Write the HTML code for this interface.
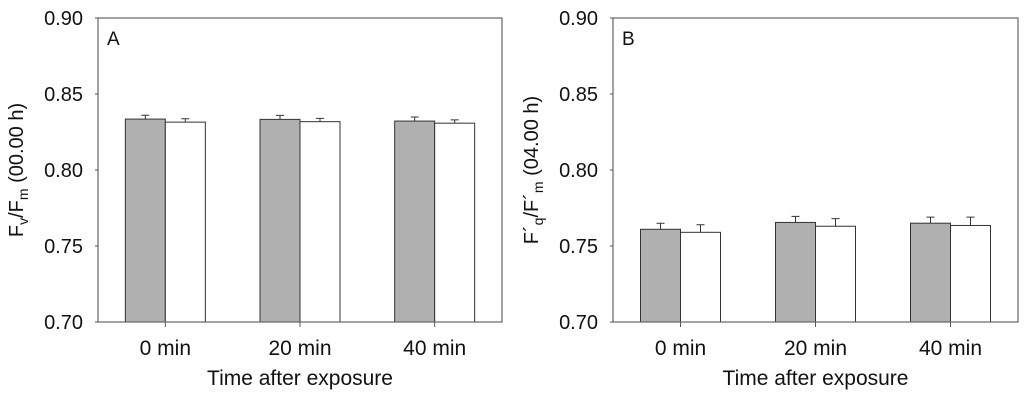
<!DOCTYPE html>
<html><head><meta charset="utf-8"><style>
body{margin:0;background:#fff;width:1024px;height:400px;overflow:hidden}
svg{font-family:"Liberation Sans",sans-serif}
</style></head><body>
<svg id="chart" width="1024" height="400"></svg>
<script>
const categories=["0 min","20 min","40 min"];
const yTicks=[0.70,0.75,0.80,0.85,0.90];
const aGray=[0.8335,0.8333,0.8322];
const aGrayErr=[0.0025,0.0026,0.0027];
const aWhite=[0.8315,0.8318,0.8308];
const aWhiteErr=[0.0022,0.0022,0.0022];
const bGray=[0.761,0.7655,0.765];
const bGrayErr=[0.004,0.004,0.004];
const bWhite=[0.759,0.763,0.7635];
const bWhiteErr=[0.005,0.005,0.0055];
const NS="http://www.w3.org/2000/svg";
const svg=document.getElementById('chart');
function mk(t,a,p){const e=document.createElementNS(NS,t);for(const k in a)e.setAttribute(k,a[k]);(p||svg).appendChild(e);return e;}
function panel(px,w,letter,gray,grayErr,white,whiteErr,name,titleHtml){
  const top=18,bot=322;
  const g=mk('g',{});
  
  
  const y=v=>bot-(v-0.7)/0.2*(bot-top);
  const cw=w/categories.length;
  const cx=i=>px+cw*(i+0.5);
  const bw=40;
  categories.forEach((c,i)=>{
    [[gray,grayErr,'#b0b0b0',-bw],[white,whiteErr,'#fff',0]].forEach(([vals,errs,fill,off],s)=>{
      const x0=cx(i)+off;
      const r=mk('rect',{x:x0,y:y(vals[i]),width:bw,height:bot-y(vals[i]),fill:fill,stroke:'#333','stroke-width':1},g);
      
      
      const xm=x0+bw/2;
      const e=mk('path',{d:`M${xm},${y(vals[i])}V${y(vals[i]+errs[i])}M${xm-4},${y(vals[i]+errs[i])}H${xm+4}`,stroke:'#333','stroke-width':1,fill:'none'},g);
      
      
    });
    mk('line',{x1:cx(i),x2:cx(i),y1:bot,y2:bot+5,stroke:'#555'},g);
    const t=mk('text',{x:cx(i),y:355,'text-anchor':'middle','font-size':21,fill:'#111'},g);
    t.textContent=c;
    
    
  });
  const fr=mk('rect',{x:px,y:top,width:w,height:bot-top,fill:'none',stroke:'#666','stroke-width':1.2},g);
  
  
  yTicks.forEach(v=>{
    mk('line',{x1:px-3,x2:px,y1:y(v),y2:y(v),stroke:'#555'},g);
    const t=mk('text',{x:px-15,y:y(v)+7,'text-anchor':'end','font-size':20,fill:'#111'},g);
    t.textContent=v.toFixed(2);
    
    
  });
  const l=mk('text',{x:px+9,y:45,'font-size':19,fill:'#111'},g);
  l.textContent=letter;
  
  
  const xt=mk('text',{x:px+w/2,y:385,'text-anchor':'middle','font-size':21,fill:'#111'},g);
  xt.textContent='Time after exposure';
  
  
  const yt=mk('text',{x:0,y:0,'text-anchor':'middle','font-size':20,fill:'#111',transform:`translate(${px-75},170) rotate(-90)`},g);
  yt.innerHTML=titleHtml;
  
  
}
panel(98,404,'A',aGray,aGrayErr,aWhite,aWhiteErr,'panel-a','F<tspan font-size="14" dy="5">v</tspan><tspan dy="-5">/F</tspan><tspan font-size="14" dy="5">m</tspan><tspan dy="-5"> (00.00 h)</tspan>');
panel(613,405,'B',bGray,bGrayErr,bWhite,bWhiteErr,'panel-b','F´<tspan font-size="14" dy="5">q</tspan><tspan dy="-5">/F´</tspan><tspan font-size="14" dy="5">m</tspan><tspan dy="-5"> (04.00 h)</tspan>');
</script>
</body></html>
